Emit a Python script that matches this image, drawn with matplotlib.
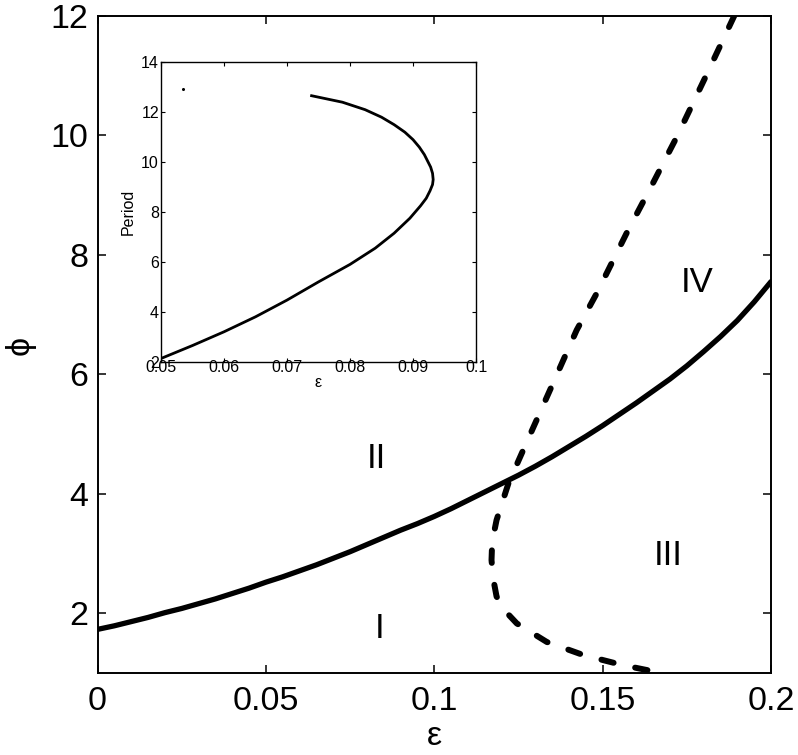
import numpy as np
import matplotlib
matplotlib.use("Agg")
import matplotlib.pyplot as plt

plt.rcParams['font.family'] = ['Liberation Sans', 'DejaVu Sans']

# solid boundary
eps_solid = [0.000, 0.005, 0.010, 0.015, 0.020, 0.025, 0.030, 0.035, 0.040, 0.045,
             0.050, 0.055, 0.060, 0.065, 0.070, 0.075, 0.080, 0.085, 0.090, 0.095,
             0.100, 0.105, 0.110, 0.115, 0.120, 0.125, 0.130, 0.135, 0.140, 0.145,
             0.150, 0.155, 0.160, 0.165, 0.170, 0.175, 0.180, 0.185, 0.190, 0.195,
             0.200]
phi_solid = [1.73, 1.79, 1.86, 1.93, 2.01, 2.08, 2.16, 2.24, 2.33, 2.42,
             2.52, 2.61, 2.71, 2.81, 2.92, 3.03, 3.15, 3.27, 3.39, 3.50,
             3.62, 3.75, 3.89, 4.03, 4.17, 4.31, 4.46, 4.62, 4.79, 4.96,
             5.14, 5.33, 5.52, 5.72, 5.92, 6.14, 6.38, 6.63, 6.90, 7.21,
             7.55]

# dashed boundary, from the top down round the nose
eps_dash = [0.1891, 0.1805, 0.172, 0.1645, 0.1571, 0.1482, 0.1423, 0.1344, 0.1264,
            0.122, 0.1185, 0.1172, 0.117, 0.1175, 0.1185, 0.1210, 0.1245, 0.1334,
            0.1443, 0.1561, 0.1675]
phi_dash = [12.0, 10.97, 9.97, 9.15, 8.36, 7.35, 6.74, 5.74, 4.73,
            4.17, 3.56, 3.2, 2.89, 2.58, 2.28, 2.04, 1.83, 1.52,
            1.30, 1.13, 1.0]

# inset: period vs epsilon (lower branch, nose, upper branch)
eps_inset = [0.0500, 0.0550, 0.0600, 0.0650, 0.0700, 0.0750, 0.0800, 0.0840,
             0.0870, 0.0895, 0.0912, 0.0921, 0.0927, 0.0931, 0.0932,
             0.0931, 0.0928, 0.0924, 0.0918, 0.0910, 0.0900, 0.0887, 0.0870,
             0.0850, 0.0824, 0.0788, 0.0739]
per_inset = [2.13, 2.65, 3.2, 3.8, 4.47, 5.2, 5.9, 6.55,
             7.15, 7.75, 8.25, 8.55, 8.85, 9.1, 9.3,
             9.55, 9.8, 10.0, 10.3, 10.6, 10.9, 11.2, 11.5,
             11.8, 12.1, 12.4, 12.66]
dot_eps, dot_per = [0.0535], [12.92]

x_ticks = [0, 0.05, 0.1, 0.15, 0.2]
x_labels = ["0", "0.05", "0.1", "0.15", "0.2"]
y_ticks = [2, 4, 6, 8, 10, 12]
ix_ticks = [0.05, 0.06, 0.07, 0.08, 0.09, 0.1]
ix_labels = ["0.05", "0.06", "0.07", "0.08", "0.09", "0.1"]
iy_ticks = [2, 4, 6, 8, 10, 12, 14]

regions = ["I", "II", "III", "IV"]
region_eps = [0.0839, 0.0829, 0.1695, 0.178]
region_phi = [1.74, 4.59, 2.97, 7.53]

fig = plt.figure(figsize=(7.98, 7.55), dpi=100)
ax = fig.add_axes([0.1222, 0.1086, 0.8440, 0.8706])

ax.plot(eps_solid, phi_solid, color="black", lw=3.8, solid_capstyle="round",
        solid_joinstyle="round")
ax.plot(eps_dash, phi_dash, color="black", lw=4.3, dash_capstyle="round",
        linestyle=(0, (2.1, 3.7)))

for lab, ex, py in zip(regions, region_eps, region_phi):
    ax.text(ex, py, lab, fontsize=25, ha="center", va="center")

ax.set_xlim(0, 0.2)
ax.set_ylim(1, 12)
ax.set_xticks(x_ticks)
ax.set_xticklabels(x_labels)
ax.set_yticks(y_ticks)
ax.tick_params(direction="in", length=5.5, width=1.1, labelsize=24.5,
               top=True, right=True)
ax.tick_params(axis="x", pad=9)
ax.tick_params(axis="y", pad=6.5)
for s in ax.spines.values():
    s.set_linewidth(1.4)

ax.set_xlabel("ε", fontsize=24.5, va="baseline")
ax.xaxis.set_label_coords(0.5, -0.110)
ax.set_ylabel("ϕ", fontsize=24.5, va="center")
ax.yaxis.set_label_coords(-0.115, 0.499)

# inset
ins = fig.add_axes([0.2018, 0.5209, 0.3947, 0.3966])
ins.plot(eps_inset, per_inset, color="black", lw=2.0, solid_joinstyle="round")
ins.plot(dot_eps, dot_per, marker="o", ms=1.2, color="black", lw=0)
ins.set_xlim(0.05, 0.1)
ins.set_ylim(2, 14)
ins.set_xticks(ix_ticks)
ins.set_xticklabels(ix_labels)
ins.set_yticks(iy_ticks)
ins.tick_params(direction="in", length=3, width=0.8, labelsize=11.5,
                top=True, right=True)
ins.tick_params(axis="x", pad=-1)
ins.tick_params(axis="y", pad=1.5)
for s in ins.spines.values():
    s.set_linewidth(1.0)
ins.set_xlabel("ε", fontsize=11.5, labelpad=0)
ins.set_ylabel("Period", fontsize=11.5, va="center")
ins.yaxis.set_label_coords(-0.105, 0.5)

fig.savefig("out.png", dpi=100)
